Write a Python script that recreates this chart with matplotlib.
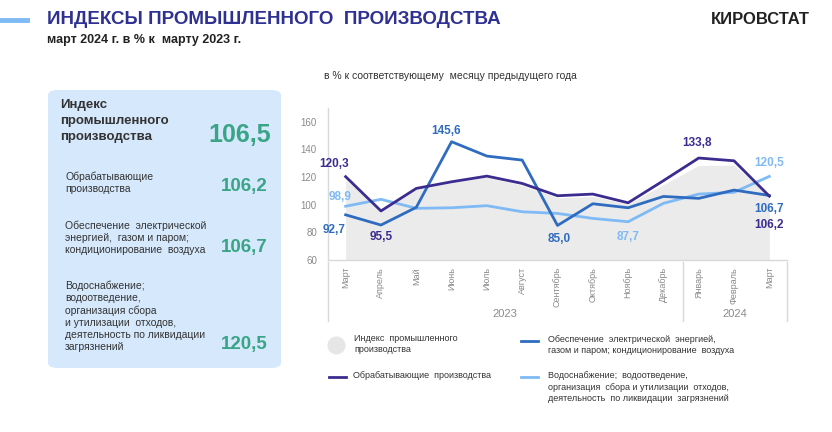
import matplotlib.pyplot as plt
from matplotlib.patches import FancyBboxPatch
from matplotlib.lines import Line2D

plt.rcParams['font.family'] = ['Liberation Sans', 'DejaVu Sans']

months = ['Март', 'Апрель', 'Май', 'Июнь', 'Июль', 'Август', 'Сентябрь',
          'Октябрь', 'Ноябрь', 'Декабрь', 'Январь', 'Февраль', 'Март']
years = ['2023', '2024']

# в % к соответствующему месяцу предыдущего года
total = [118.0, 96.0, 111.0, 116.0, 120.0, 114.0, 105.0, 106.0, 100.5, 114.5, 128.5, 128.5, 106.5]
manuf = [120.3, 95.5, 111.8, 116.6, 120.7, 115.4, 106.5, 107.7, 101.4, 117.4, 133.8, 131.8, 106.2]
energy = [92.7, 85.3, 98.1, 145.6, 135.2, 132.3, 85.0, 100.7, 97.8, 106.0, 104.6, 110.6, 106.7]
water = [98.9, 103.9, 97.4, 97.8, 99.3, 94.9, 93.7, 90.1, 87.7, 101.0, 107.7, 109.0, 120.5]

# значения за март 2024 г. в % к марту 2023 г.
panel_names = ['Обрабатывающие\nпроизводства',
               'Обеспечение  электрической\nэнергией,  газом и паром;\nкондиционирование  воздуха',
               'Водоснабжение;\nводоотведение,\nорганизация сбора\nи утилизации  отходов,\nдеятельность по ликвидации\nзагрязнений']
panel_values = ['106,2', '106,7', '120,5']

c_manuf = '#3b2d8f'
c_energy = '#2f6cc0'
c_water = '#7fbaf5'
c_green = '#3aa586'
c_grey = '#8a8a8a'

W, H = 832, 432
fig = plt.figure(figsize=(8.32, 4.32), dpi=100)


def fx(x):
    return x / W


def fy(y):
    return 1 - y / H


# header
fig.add_artist(Line2D([0, fx(27)], [fy(20), fy(20)], color=c_water, lw=3.5))
fig.text(fx(47), fy(20), 'ИНДЕКСЫ ПРОМЫШЛЕННОГО  ПРОИЗВОДСТВА', fontsize=13.5,
         fontweight='bold', color='#2e3192', va='center', ha='left')
fig.text(fx(47), fy(40), 'март 2024 г. в % к  марту 2023 г.', fontsize=9,
         fontweight='bold', color='#222222', va='center', ha='left')
fig.text(fx(810), fy(20), 'КИРОВСТАТ', fontsize=12, fontweight='bold',
         color='#222222', va='center', ha='right')
fig.text(fx(450), fy(76), 'в % к соответствующему  месяцу предыдущего года',
         fontsize=7.5, color='#333333', va='center', ha='center')

# left panel
fig.add_artist(FancyBboxPatch((fx(48), fy(368)), fx(233), fy(90) - fy(368),
                              boxstyle='round,pad=0,rounding_size=0.012',
                              fc='#d5e8fc', ec='none', transform=fig.transFigure))
fig.text(fx(60), fy(121), 'Индекс\nпромышленного\nпроизводства', fontsize=9.5,
         fontweight='bold', color='#333333', va='center', ha='left', linespacing=1.45)
fig.text(fx(271), fy(135), '106,5', fontsize=18, fontweight='bold', color=c_green,
         va='center', ha='right')
name_y = [183, 238, 316]
val_y = [187, 247, 345]
for name, val, ny, vy in zip(panel_names, panel_values, name_y, val_y):
    fig.text(fx(65), fy(ny), name, fontsize=7.5, color='#333333', va='center',
             ha='left', linespacing=1.25)
    fig.text(fx(268), fy(vy), val, fontsize=13.5, fontweight='bold', color=c_green,
             va='center', ha='right')

# chart
ax = fig.add_axes([fx(328), fy(260), fx(787) - fx(328), fy(108) - fy(260)])
x = list(range(len(months)))
ax.fill_between(x, 0, total, color='#ebebeb', lw=0, zorder=1)
ax.plot(x, water, color=c_water, lw=2, zorder=3)
ax.plot(x, energy, color=c_energy, lw=2, zorder=4)
ax.plot(x, manuf, color=c_manuf, lw=2, zorder=5)
ax.set_xlim(-0.5, len(months) - 0.5)
ax.set_ylim(60, 170)
ax.set_yticks([60, 80, 100, 120, 140, 160])
ax.tick_params(axis='y', length=0, labelsize=7, labelcolor=c_grey, pad=8)
ax.set_xticks(x)
ax.set_xticklabels(months, rotation=90, fontsize=6.5, color=c_grey, va='top')
ax.tick_params(axis='x', length=0, pad=5)
for s in ['top', 'right']:
    ax.spines[s].set_visible(False)
ax.spines['left'].set_color('#d9d9d9')
ax.spines['bottom'].set_color('#d9d9d9')
ax.spines['left'].set_linewidth(1)
ax.spines['bottom'].set_linewidth(1)

labels = [
    (0, manuf, '120,3', c_manuf, (-8, 9)),
    (0, energy, '92,7', c_energy, (-8, -11)),
    (0, water, '98,9', c_water, (-4, 7)),
    (1, manuf, '95,5', c_manuf, (0, -19)),
    (3, energy, '145,6', c_energy, (-4, 8)),
    (6, energy, '85,0', c_energy, (1, -10)),
    (8, water, '87,7', c_water, (0, -11)),
    (10, manuf, '133,8', c_manuf, (-1, 11)),
    (12, water, '120,5', c_water, (0, 10)),
    (12, energy, '106,7', c_energy, (0, -10)),
    (12, manuf, '106,2', c_manuf, (0, -21)),
]
for i, series, txt, col, off in labels:
    ax.annotate(txt, (i, series[i]), xytext=off, textcoords='offset points',
                ha='center', va='center', fontsize=8.5, fontweight='bold', color=col)

# year group separators
for sx in [328, 683, 787]:
    fig.add_artist(Line2D([fx(sx), fx(sx)], [fy(262), fy(321)], color='#d9d9d9', lw=1))
fig.text(fx(505), fy(314), years[0], fontsize=8, color=c_grey, ha='center', va='center')
fig.text(fx(735), fy(314), years[1], fontsize=8, color=c_grey, ha='center', va='center')

# legend
fig.add_artist(Line2D([fx(336)], [fy(345)], marker='o', markersize=12,
                      color='#e6e6e6', lw=0))
fig.text(fx(354), fy(344), 'Индекс  промышленного\nпроизводства', fontsize=6.5,
         color='#333333', va='center', ha='left', linespacing=1.35)
fig.add_artist(Line2D([fx(521), fx(538)], [fy(341), fy(341)], color=c_energy, lw=2))
fig.text(fx(548), fy(345), 'Обеспечение  электрической  энергией,\nгазом и паром; кондиционирование  воздуха',
         fontsize=6.5, color='#333333', va='center', ha='left', linespacing=1.35)
fig.add_artist(Line2D([fx(329), fx(346)], [fy(377), fy(377)], color=c_manuf, lw=2))
fig.text(fx(353), fy(376), 'Обрабатывающие  производства', fontsize=6.5,
         color='#333333', va='center', ha='left')
fig.add_artist(Line2D([fx(521), fx(538)], [fy(377), fy(377)], color=c_water, lw=2))
fig.text(fx(548), fy(387), 'Водоснабжение;  водоотведение,\nорганизация  сбора и утилизации  отходов,\nдеятельность  по ликвидации  загрязнений',
         fontsize=6.5, color='#333333', va='center', ha='left', linespacing=1.35)

fig.savefig('out.png', dpi=100, facecolor='white')
